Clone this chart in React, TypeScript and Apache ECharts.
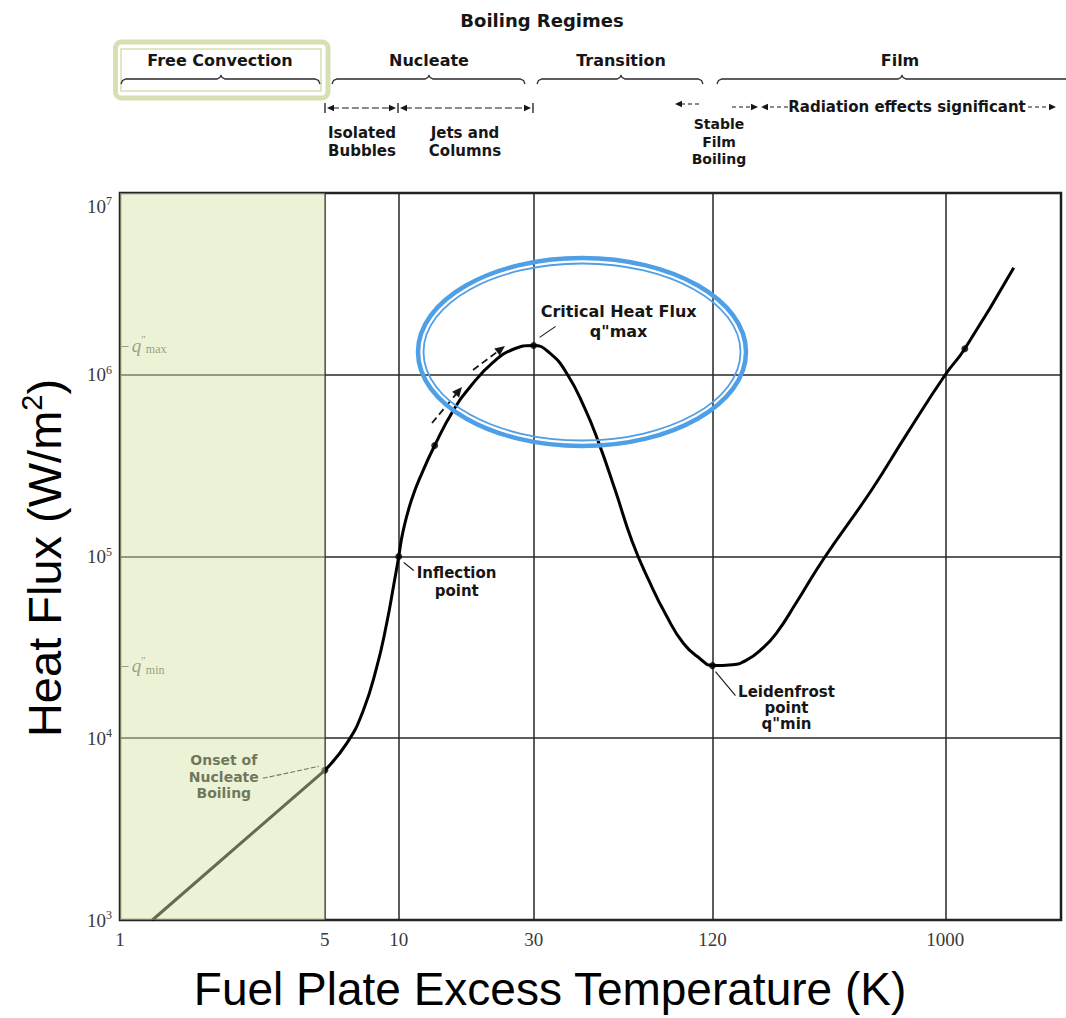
import React, { useEffect, useRef } from 'react';
import * as echarts from 'echarts';

// Excess-temperature axis: labelled stops (K) and the spacing between them along the axis
const X_TICKS = [1, 5, 10, 30, 120, 1000];
const X_TICK_GAPS = [205, 74, 135, 179, 233];
const X_TAIL_PER_DECADE = 253;
const X_END = 2870;

// Heat-flux axis range (W/m²)
const Y_MIN = 1e3;
const Y_MAX = 1e7;

// Free convection branch
const FREE_T = [1.29, 5];
const FREE_Q = [1000, 6660];

// Nucleate -> transition -> film boiling branch
const BOIL_T = [
  5, 6.15, 7.14, 8.14, 8.94, 9.54, 10, 10.33, 11.1, 12.2, 13.4, 15.5, 18.1, 21.5, 25.3, 30,
  34.1, 38.9, 44.5, 49.5, 56.4, 64.4, 73.7, 84, 95.9, 109, 120,
  144, 163, 189, 215, 257.7, 331, 512, 699, 1000, 1195, 1866,
];
const BOIL_Q = [
  6660, 9400, 14000, 24700, 43200, 69700, 1.0e5, 1.35e5, 2.05e5, 2.98e5, 4.08e5, 6.26e5, 8.78e5, 1.166e6, 1.377e6, 1.45e6,
  1.31e6, 1.01e6, 6.59e5, 4.3e5, 2.33e5, 1.21e5, 72400, 47200, 33200, 27400, 25100,
  25400, 26800, 31200, 37900, 55800, 97500, 2.33e5, 4.64e5, 1.0e6, 1.39e6, 3.88e6,
];

// Marked states on the curve
const MARK_T = [5, 10, 13.4, 30, 120, 1195];
const MARK_Q = [6660, 1.0e5, 4.08e5, 1.45e6, 25100, 1.39e6];

const ONSET = { t: 5, q: 6660 };
const INFLECTION = { t: 10, q: 1.0e5 };
const CHF = { t: 30, q: 1.45e6 };
const LEIDENFROST = { t: 120, q: 25100 };

const INK = '#161616';
const BLUE = '#4f9fe6';
const BOX_GREEN = '#d5e0b3';

// piecewise-logarithmic position of a temperature along the x axis
const X_STOPS: number[] = X_TICKS.map((_, i) => X_TICK_GAPS.slice(0, i).reduce((a, b) => a + b, 0));
function xPos(t: number): number {
  const n = X_TICKS.length;
  if (t >= X_TICKS[n - 1]) return X_STOPS[n - 1] + X_TAIL_PER_DECADE * Math.log10(t / X_TICKS[n - 1]);
  let i = 0;
  while (i < n - 2 && t > X_TICKS[i + 1]) i++;
  const f = Math.log(t / X_TICKS[i]) / Math.log(X_TICKS[i + 1] / X_TICKS[i]);
  return X_STOPS[i] + f * (X_STOPS[i + 1] - X_STOPS[i]);
}

const bold = (size: number) => `bold ${size}px "DejaVu Sans"`;

function label(x: number, y: number, text: string, size: number, align = 'center', fill = INK): any {
  return {
    type: 'text', x, y, silent: true,
    style: { text, font: bold(size), fill, align, verticalAlign: 'middle', textAlign: align, textVerticalAlign: 'middle' },
  };
}

function seg(x1: number, y1: number, x2: number, y2: number, width = 1.3, dash?: number[]): any {
  return {
    type: 'line', silent: true,
    shape: { x1, y1, x2, y2 },
    style: { stroke: INK, lineWidth: width, lineDash: dash, fill: 'none' },
  };
}

function head(x: number, y: number, ux: number, uy: number, len: number, hw: number): any {
  const bx = x - ux * len;
  const by = y - uy * len;
  return {
    type: 'polygon', silent: true,
    shape: { points: [[x, y], [bx - uy * hw, by + ux * hw], [bx + uy * hw, by - ux * hw]] },
    style: { fill: INK },
  };
}

function arrow(
  x0: number, y0: number, x1: number, y1: number,
  o: { start?: boolean; end?: boolean; dash?: number[]; width?: number; len?: number; hw?: number } = {},
): any[] {
  const len = o.len ?? 7;
  const hw = o.hw ?? 3.2;
  const d = Math.hypot(x1 - x0, y1 - y0);
  const ux = (x1 - x0) / d;
  const uy = (y1 - y0) / d;
  const sx = o.start ? x0 + ux * len * 0.7 : x0;
  const sy = o.start ? y0 + uy * len * 0.7 : y0;
  const ex = o.end ? x1 - ux * len * 0.7 : x1;
  const ey = o.end ? y1 - uy * len * 0.7 : y1;
  const out: any[] = [seg(sx, sy, ex, ey, o.width ?? 1.2, o.dash)];
  if (o.end) out.push(head(x1, y1, ux, uy, len, hw));
  if (o.start) out.push(head(x0, y0, -ux, -uy, len, hw));
  return out;
}

function brace(x0: number, x1: number, xm: number, y: number): any {
  return {
    type: 'polyline', silent: true,
    shape: {
      points: [
        [x0, y + 5], [x0 + 1.5, y + 1.5], [x0 + 5, y], [xm - 4, y], [xm - 1.2, y - 1.5], [xm, y - 3.5],
        [xm + 1.2, y - 1.5], [xm + 4, y], [x1 - 5, y], [x1 - 1.5, y + 1.5], [x1, y + 5],
      ],
    },
    style: { stroke: '#2a2a2a', lineWidth: 1.3, fill: 'none' },
  };
}

function buildOption(): any {
  const xTickPos = X_TICKS.map(xPos);
  const tickText = (v: number) => {
    const i = xTickPos.findIndex((p) => Math.abs(p - v) < 0.5);
    return i >= 0 ? String(X_TICKS[i]) : '';
  };
  const axisFont = { fontFamily: 'Liberation Serif', fontSize: 19, color: '#3a3a3a' };
  const supFont = { fontFamily: 'Liberation Serif', fontSize: 12, color: '#3a3a3a' };

  return {
    animation: false,
    backgroundColor: '#ffffff',
    grid: {
      left: 120, right: 5, top: 193, bottom: 98,
      show: true, borderColor: '#1c1c1c', borderWidth: 2.5, backgroundColor: '#ffffff',
      containLabel: false, outerBoundsMode: 'none',
    },
    xAxis: {
      type: 'value', min: 0, max: xPos(X_END),
      axisLine: { show: false },
      axisTick: { show: false, customValues: xTickPos },
      axisLabel: { ...axisFont, customValues: xTickPos, formatter: tickText, margin: 10 },
      splitLine: { show: true, lineStyle: { color: '#262626', width: 1.5 } },
    },
    yAxis: {
      type: 'log', logBase: 10, min: Y_MIN, max: Y_MAX,
      axisLine: { show: false },
      axisTick: { show: false },
      axisLabel: {
        margin: 8,
        // the top label sits just inside the frame
        formatter: (v: number) => {
          const e = Math.round(Math.log10(v));
          return v >= Y_MAX ? `{bt|10}{et|${e}}` : `{b|10}{e|${e}}`;
        },
        rich: {
          b: { ...axisFont },
          e: { ...supFont, padding: [0, 0, 10, 0] },
          bt: { ...axisFont, padding: [26, 0, 0, 0] },
          et: { ...supFont, padding: [26, 0, 10, 0] },
        },
      },
      splitLine: { show: true, lineStyle: { color: '#262626', width: 1.5 } },
    },
    series: [
      {
        name: 'Free convection', type: 'line', symbol: 'none', z: 3,
        data: FREE_T.map((t, i) => [xPos(t), FREE_Q[i]]),
        lineStyle: { color: '#000', width: 3 },
      },
      {
        name: 'Boiling curve', type: 'line', symbol: 'none', smooth: 0.5, z: 3,
        data: BOIL_T.map((t, i) => [xPos(t), BOIL_Q[i]]),
        lineStyle: { color: '#000', width: 3 },
      },
      {
        name: 'States', type: 'scatter', symbolSize: 7, z: 4,
        data: MARK_T.map((t, i) => [xPos(t), MARK_Q[i]]),
        itemStyle: { color: '#000' },
      },
      {
        name: 'Flux limits', type: 'scatter', symbol: 'rect', symbolSize: [1, 1], z: 2,
        data: [
          { value: [xPos(1), CHF.q], name: 'max' },
          { value: [xPos(1), LEIDENFROST.q], name: 'min' },
        ],
        itemStyle: { color: 'rgba(0,0,0,0)' },
        label: {
          show: true, position: 'right', distance: 1,
          formatter: (p: any) => `{d|–}{q|q}{p|″}{s|${p.name}}`,
          rich: {
            d: { fontSize: 13, color: '#333', padding: [0, 3, 0, 0] },
            q: { fontFamily: 'Liberation Serif', fontStyle: 'italic', fontSize: 19, color: '#333' },
            p: { fontFamily: 'Liberation Serif', fontSize: 11, color: '#333', padding: [0, 0, 12, 0] },
            s: { fontFamily: 'Liberation Serif', fontSize: 12, color: '#333', padding: [8, 0, 0, 0] },
          },
        },
      },
      {
        name: 'Free convection regime', type: 'line', symbol: 'none', z: 10,
        data: [[xPos(1), Y_MIN]],
        lineStyle: { opacity: 0 },
        markArea: {
          silent: true, z: 10,
          itemStyle: { color: 'rgba(212,228,168,0.47)' },
          data: [[{ xAxis: xPos(1) }, { xAxis: xPos(5) }]],
        },
      },
    ],
  };
}

function buildGraphics(chart: any): any[] {
  const px = (p: { t: number; q: number }) => {
    const r = chart.convertToPixel({ xAxisIndex: 0, yAxisIndex: 0 }, [xPos(p.t), p.q]);
    return { x: r[0], y: r[1] };
  };
  const g: any[] = [];

  // axis titles
  g.push({
    type: 'text', x: 550, y: 989, silent: true,
    style: {
      text: 'Fuel Plate Excess Temperature (K)', font: '46px "Liberation Sans"', fill: '#000',
      align: 'center', verticalAlign: 'middle', textAlign: 'center', textVerticalAlign: 'middle',
    },
  });
  g.push({
    type: 'text', x: 44, y: 558, rotation: Math.PI / 2, silent: true,
    style: {
      text: '{t|Heat Flux (W/m}{s|2}{t|)}', fill: '#000',
      align: 'center', verticalAlign: 'middle', textAlign: 'center', textVerticalAlign: 'middle',
      rich: {
        t: { fontFamily: 'Liberation Sans', fontSize: 47, fill: '#000', color: '#000' },
        s: { fontFamily: 'Liberation Sans', fontSize: 29, fill: '#000', color: '#000', padding: [0, 0, 24, 0] },
      },
    },
  });

  // boiling regime header
  g.push(label(542, 20, 'Boiling Regimes', 18));
  g.push({
    type: 'rect', silent: true,
    shape: { x: 115.5, y: 42, width: 212.5, height: 56, r: 6 },
    style: { fill: 'none', stroke: BOX_GREEN, lineWidth: 5 },
  });
  g.push({
    type: 'rect', silent: true,
    shape: { x: 121, y: 49, width: 200, height: 42 },
    style: { fill: 'none', stroke: BOX_GREEN, lineWidth: 1.5 },
  });
  g.push(label(220, 60, 'Free Convection', 16));
  g.push(label(429, 60, 'Nucleate', 16));
  g.push(label(621, 60, 'Transition', 16));
  g.push(label(900, 60, 'Film', 16));
  g.push(brace(121, 320, 221, 79));
  g.push(brace(332, 525, 429, 79));
  g.push(brace(537, 703, 621, 79));
  g.push(brace(717, 1072, 902, 79));

  // nucleate sub-regimes
  for (const x of [325, 398, 533]) g.push(seg(x, 103, x, 113, 1.3));
  g.push(...arrow(327, 108, 396, 108, { start: true, end: true, dash: [7, 3] }));
  g.push(...arrow(400, 108, 531, 108, { start: true, end: true, dash: [7, 3] }));
  g.push(label(362, 133, 'Isolated', 15));
  g.push(label(362, 151, 'Bubbles', 15));
  g.push(label(465, 133, 'Jets and', 15));
  g.push(label(465, 151, 'Columns', 15));

  // film sub-regimes
  g.push(...arrow(699, 104, 675, 104, { end: true, dash: [4, 3] }));
  g.push(label(719, 124, 'Stable', 14));
  g.push(label(719, 142, 'Film', 14));
  g.push(label(719, 159, 'Boiling', 14));
  g.push(...arrow(732, 107, 758, 107, { end: true, dash: [4, 3] }));
  g.push(...arrow(788, 107, 761, 107, { end: true, dash: [4, 3] }));
  g.push(label(907, 107, 'Radiation effects significant', 15));
  g.push(...arrow(1028, 107, 1056, 107, { end: true, dash: [4, 3] }));

  // curve annotations
  const on = px(ONSET);
  g.push(seg(on.x - 62, on.y + 8, on.x - 6, on.y - 4, 1.1, [5, 2]));
  g.push(label(on.x - 101, on.y - 10, 'Onset of', 14));
  g.push(label(on.x - 101, on.y + 7, 'Nucleate', 14));
  g.push(label(on.x - 101, on.y + 23, 'Boiling', 14));

  const inf = px(INFLECTION);
  g.push(seg(inf.x + 5, inf.y + 6, inf.x + 15, inf.y + 14, 1.1));
  g.push(label(inf.x + 18, inf.y + 16, 'Inflection', 15, 'left'));
  g.push(label(inf.x + 58, inf.y + 34, 'point', 15));

  const chf = px(CHF);
  g.push(seg(chf.x + 6, chf.y - 8, chf.x + 22, chf.y - 19, 1.1));
  g.push(label(chf.x + 85, chf.y - 34, 'Critical Heat Flux', 16));
  g.push(label(chf.x + 85, chf.y - 14, 'q"max', 16));

  const lf = px(LEIDENFROST);
  g.push(seg(lf.x + 3, lf.y + 6, lf.x + 23, lf.y + 30, 1.1));
  g.push(label(lf.x + 74, lf.y + 26, 'Leidenfrost', 15));
  g.push(label(lf.x + 74, lf.y + 42, 'point', 15));
  g.push(label(lf.x + 74, lf.y + 58, 'q"min', 15));

  // direction of increasing flux along the nucleate branch
  g.push(...arrow(432, 423, 462, 387, { end: true, dash: [7, 4], width: 1.8, len: 10, hw: 4.5 }));
  g.push(...arrow(473, 370, 505, 346, { end: true, dash: [7, 4], width: 1.8, len: 10, hw: 4.5 }));

  // highlight around the critical heat flux
  g.push({
    type: 'ellipse', silent: true, z: 100,
    shape: { cx: 582, cy: 352, rx: 164, ry: 94 },
    style: { fill: 'none', stroke: BLUE, lineWidth: 4.5 },
  });
  g.push({
    type: 'ellipse', silent: true, z: 100,
    shape: { cx: 582, cy: 352, rx: 158.5, ry: 88.5 },
    style: { fill: 'none', stroke: BLUE, lineWidth: 1.8 },
  });

  return g;
}

export default function App() {
  const ref = useRef<HTMLDivElement>(null);
  useEffect(() => {
    document.body.style.margin = '0';
    const chart = echarts.init(ref.current!, null, { renderer: 'svg' });
    chart.setOption(buildOption());
    chart.setOption({ graphic: buildGraphics(chart) });
    return () => chart.dispose();
  }, []);
  return <div ref={ref} style={{ width: 1066, height: 1018 }} />;
}
